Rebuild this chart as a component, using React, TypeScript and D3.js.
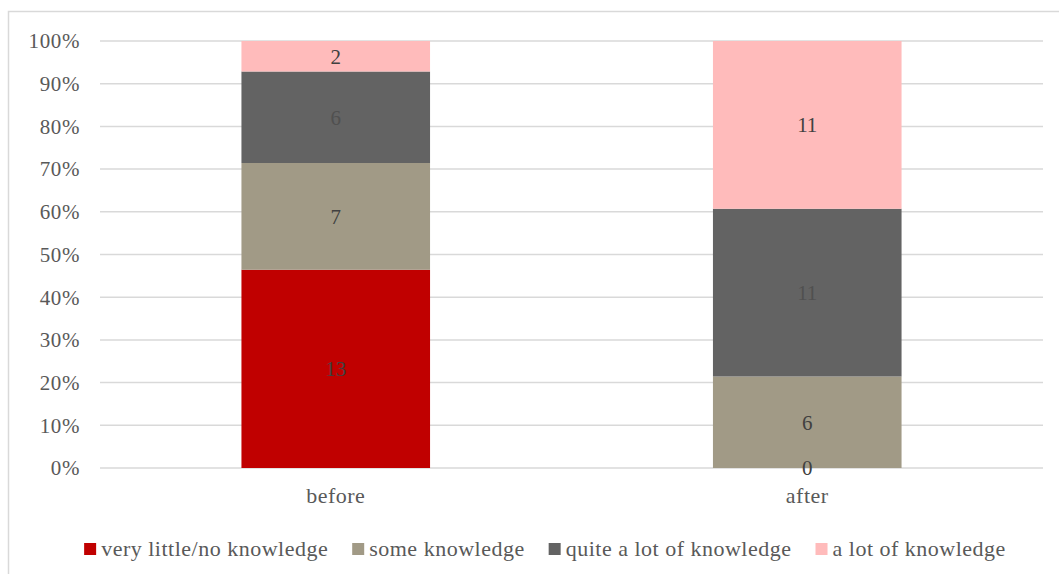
import React, { useEffect, useRef } from "react";
import * as d3 from "d3";

const categories = ["before", "after"];
const seriesNames = [
  "very little/no knowledge",
  "some knowledge",
  "quite a lot of knowledge",
  "a lot of knowledge",
];
const veryLittle = [13, 0];
const someKnowledge = [7, 6];
const quiteALot = [6, 11];
const aLot = [2, 11];
const yTicks = [0, 0.1, 0.2, 0.3, 0.4, 0.5, 0.6, 0.7, 0.8, 0.9, 1.0];
const colors = ["#C00000", "#A19A86", "#636363", "#FFBBBB"];

const W = 1059;
const H = 574;
const FONT = "'Liberation Serif', 'Times New Roman', 'DejaVu Serif', serif";

export default function App() {
  const ref = useRef<SVGSVGElement>(null);

  useEffect(() => {
    const svg = d3.select(ref.current);
    svg.selectAll("*").remove();

    svg
      .append("rect")
      .attr("x", 8.5)
      .attr("y", 11.5)
      .attr("width", 1200)
      .attr("height", 700)
      .attr("fill", "#fff")
      .attr("stroke", "#d9d9d9")
      .attr("stroke-width", 1.5);

    const x = d3
      .scaleBand<string>()
      .domain(categories)
      .range([100, 1043])
      .paddingInner(0.6)
      .paddingOuter(0.3);
    const y = d3.scaleLinear().domain([0, 1]).range([468, 41]);

    svg
      .append("g")
      .selectAll("line")
      .data(yTicks)
      .join("line")
      .attr("x1", 100)
      .attr("x2", 1043)
      .attr("y1", (d) => y(d))
      .attr("y2", (d) => y(d))
      .attr("stroke", "#d9d9d9")
      .attr("stroke-width", 1.5);

    svg
      .append("g")
      .selectAll("text")
      .data(yTicks)
      .join("text")
      .attr("x", 80)
      .attr("y", (d) => y(d))
      .attr("dy", "0.35em")
      .attr("text-anchor", "end")
      .style("font-family", FONT)
      .style("font-size", "21px")
      .style("letter-spacing", "0.6px")
      .attr("fill", "#595959")
      .text((d) => d3.format(".0%")(d));

    const rows = categories.map((c, i) => ({
      cat: c,
      v0: veryLittle[i],
      v1: someKnowledge[i],
      v2: quiteALot[i],
      v3: aLot[i],
    }));
    const keys = ["v0", "v1", "v2", "v3"];
    const stacked = d3.stack<any>().keys(keys).offset(d3.stackOffsetExpand)(rows);

    stacked.forEach((layer, li) => {
      svg
        .append("g")
        .selectAll("rect")
        .data(layer)
        .join("rect")
        .attr("x", (d: any) => x(d.data.cat)!)
        .attr("width", x.bandwidth())
        .attr("y", (d: any) => y(d[1]))
        .attr("height", (d: any) => y(d[0]) - y(d[1]))
        .attr("fill", colors[li]);
    });

    stacked.forEach((layer, li) => {
      svg
        .append("g")
        .selectAll("text")
        .data(layer)
        .join("text")
        .attr("x", (d: any) => x(d.data.cat)! + x.bandwidth() / 2)
        .attr("y", (d: any) => y((d[0] + d[1]) / 2))
        .attr("dy", "0.35em")
        .attr("text-anchor", "middle")
        .style("font-family", FONT)
        .style("font-size", "21px")
        .attr("fill", li === 2 ? "#505050" : "#404040")
        .text((d: any) => String(d.data[keys[li]]));
    });

    svg
      .append("g")
      .selectAll("text")
      .data(categories)
      .join("text")
      .attr("x", (d) => x(d)! + x.bandwidth() / 2)
      .attr("y", 503)
      .attr("text-anchor", "middle")
      .style("font-family", FONT)
      .style("font-size", "22px")
      .style("letter-spacing", "0.5px")
      .attr("fill", "#595959")
      .text((d) => d);

    const legend = svg.append("g");
    const items = seriesNames.map((name, i) => {
      const g = legend.append("g");
      g.append("rect")
        .attr("x", 0)
        .attr("y", -13)
        .attr("width", 12)
        .attr("height", 12)
        .attr("fill", colors[i]);
      const t = g
        .append("text")
        .attr("x", 17)
        .attr("y", 0)
        .style("font-family", FONT)
        .style("font-size", "22px")
        .style("letter-spacing", "0.5px")
        .attr("fill", "#595959")
        .text(name);
      const w = 17 + (t.node() as SVGTextElement).getComputedTextLength();
      return { g, w };
    });
    const gap = 24;
    const total = d3.sum(items, (d) => d.w) + gap * (items.length - 1);
    let cx = (85 + 1005) / 2 - total / 2;
    items.forEach((it) => {
      it.g.attr("transform", `translate(${cx},556)`);
      cx += it.w + gap;
    });
  }, []);

  return (
    <svg
      ref={ref}
      width={W}
      height={H}
      style={{ position: "absolute", left: 0, top: 0, background: "#fff" }}
    />
  );
}
